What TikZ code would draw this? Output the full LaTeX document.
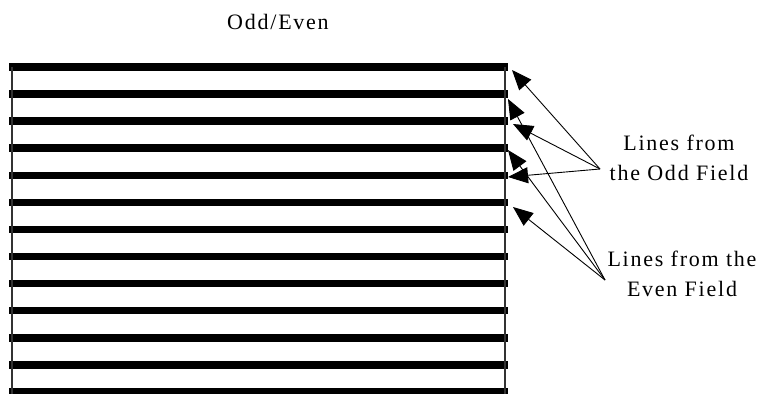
\documentclass[tikz,border=0pt]{standalone}
\usepackage{fontspec}
\setmainfont{Liberation Serif}[LetterSpace=8]
\usetikzlibrary{arrows.meta}
\tikzset{
    scanline/.style={line width=7.5pt, draw=black},
    edge/.style={line width=1.4pt, draw=black!80},
    lbl/.style={align=center, inner sep=0pt,
                font=\fontsize{22}{30}\selectfont},
    arr/.style={-{Triangle[length=20pt, width=16pt]}, line width=0.9pt, draw=black}
}

\begin{document}
\begin{tikzpicture}[x=1pt, y=-1pt]
\useasboundingbox (0,0) rectangle (764,394);

% interlaced frame
\foreach \i in {0,...,12}
    \draw[scanline] (9,{67+27.08*\i}) -- (508,{67+27.08*\i});
\draw[edge] (12,67)  -- (12,394);
\draw[edge] (505,67) -- (505,394);

\node[lbl]  at (278,22)  (title) {Odd/Even};
\node[lbl]  at (679,158) (odd)   {Lines from\\the Odd Field};
\node[lbl]  at (682,274) (even)  {Lines from the\\Even Field};

% arrow ends
\coordinate (os) at (600,169);
\coordinate (es) at (605,280);
\coordinate (o1) at (512,70);
\coordinate (o3) at (513,124);
\coordinate (o5) at (508,177);
\coordinate (e2) at (508,99);
\coordinate (e4) at (508,150);
\coordinate (e6) at (513,207);

\foreach \t in {o1,o3,o5}
    \draw[arr] (os) -- (\t);
\foreach \t in {e2,e4,e6}
    \draw[arr] (es) -- (\t);
\end{tikzpicture}
\end{document}
